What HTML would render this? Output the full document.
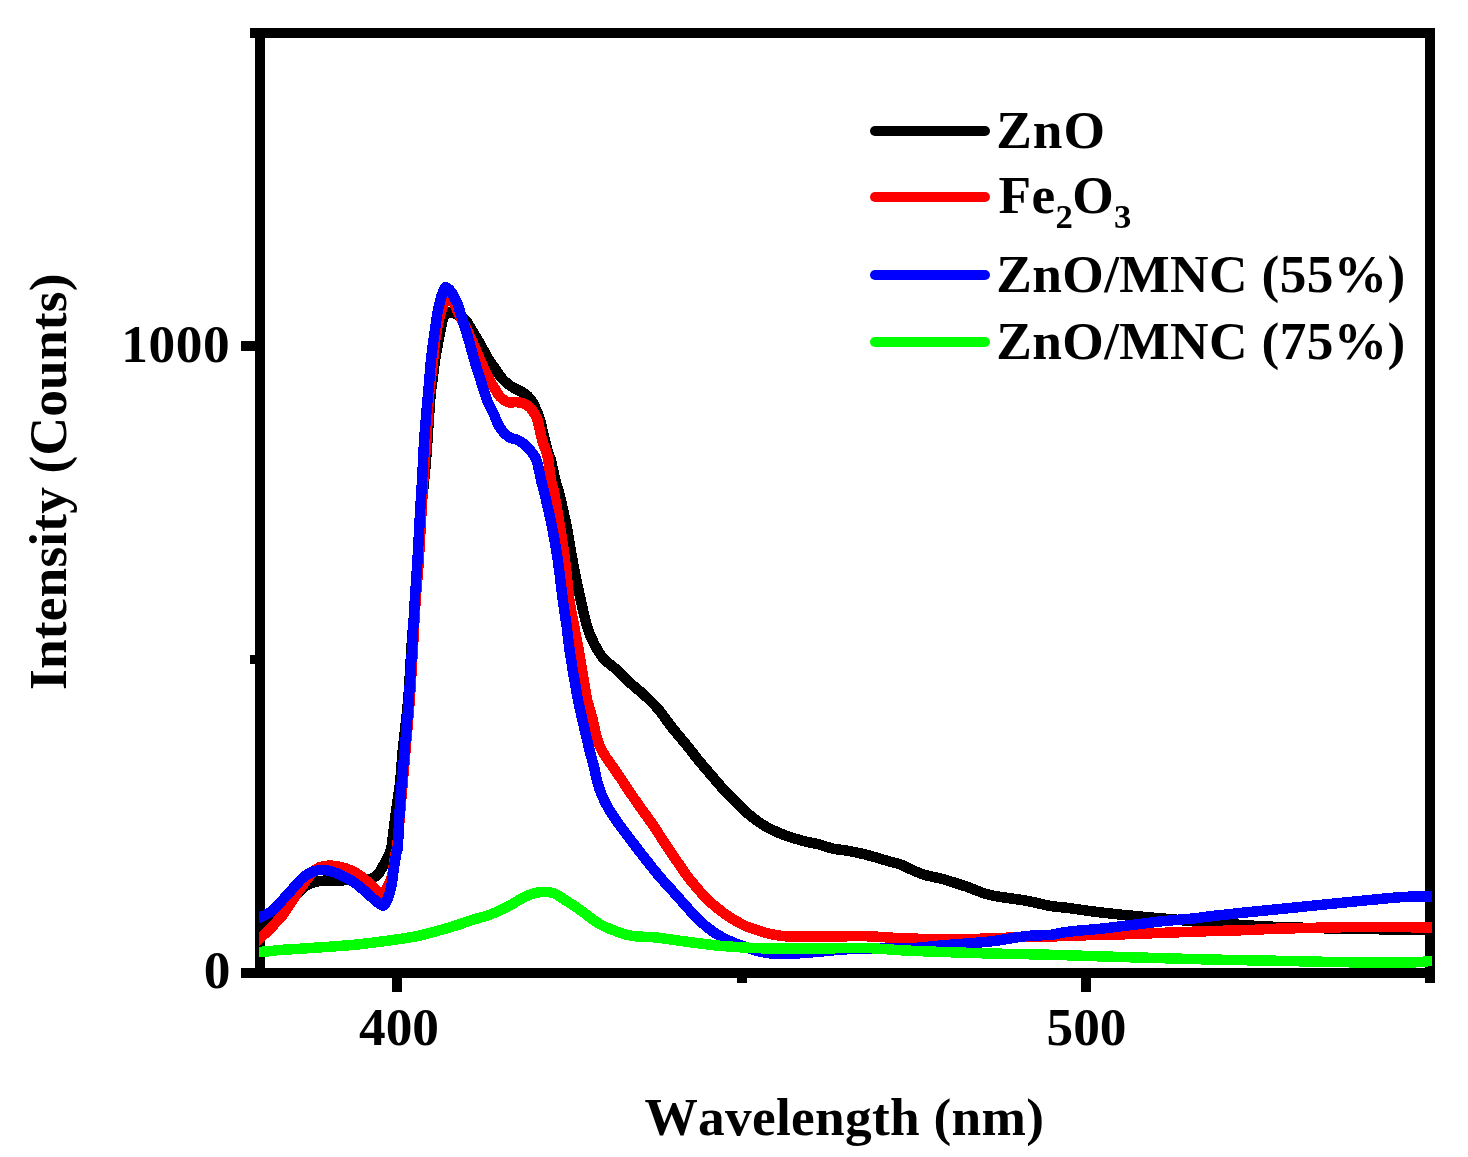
<!DOCTYPE html>
<html lang="en">
<head>
<meta charset="utf-8">
<title>PL spectra – ZnO, Fe2O3, ZnO/MNC</title>
<style>
html,body{margin:0;padding:0;background:#fff;}
body{width:1468px;height:1157px;overflow:hidden;position:relative;}
svg{position:absolute;left:0;top:0;display:block;will-change:transform;}
text{font-family:"Liberation Serif",serif;font-weight:bold;font-size:53.33px;fill:#000;font-kerning:none;font-feature-settings:"kern" 0,"liga" 0;}
.sub{font-size:34.7px;}
.curve{fill:none;stroke-width:10.5;stroke-linejoin:round;stroke-linecap:butt;shape-rendering:crispEdges;}
.ax{fill:#000;shape-rendering:crispEdges;}
.lg{fill:none;stroke-width:10;stroke-linecap:round;}
</style>
</head>
<body>
<svg width="1468" height="1157" viewBox="0 0 1468 1157">
<rect x="0" y="0" width="1468" height="1157" fill="#ffffff"/>
<!-- axes frame -->
<g class="ax">
<rect x="255" y="28" width="10" height="950"/>
<rect x="1425" y="28" width="10" height="955"/>
<rect x="250" y="28" width="1185" height="10"/>
<rect x="241" y="968" width="1194" height="10"/>
<!-- y ticks -->
<rect x="241" y="341" width="14" height="10"/>
<rect x="250" y="655" width="5" height="9"/>
<!-- x ticks -->
<rect x="392" y="978" width="10" height="14"/>
<rect x="737" y="978" width="10" height="5"/>
<rect x="1081" y="978" width="10" height="14"/>
</g>
<!-- data curves -->
<clipPath id="plotclip"><rect x="259" y="38" width="1173" height="935"/></clipPath>
<g clip-path="url(#plotclip)">
<path class="curve" stroke="#000000" d="M247.5 932.2C249.5 930.7 256.6 925.6 259.5 923.5C262.4 921.4 261.1 922.4 264.9 919.6C268.7 916.9 277.1 911.2 282.4 907.0C287.7 902.8 293.3 897.8 296.7 894.6C300.1 891.4 300.5 889.8 302.9 887.9C305.3 886.0 308.3 884.4 311.0 883.3C313.7 882.2 316.5 881.5 319.2 881.1C321.9 880.7 324.3 880.7 327.4 880.6C330.5 880.5 334.0 880.7 337.6 880.6C341.2 880.5 344.5 880.1 348.9 880.0C353.3 879.9 360.3 880.2 364.2 879.9C368.1 879.6 370.1 879.1 372.3 878.2C374.5 877.4 375.9 876.5 377.5 874.8C379.1 873.1 380.6 870.4 382.0 868.0C383.4 865.6 384.8 862.8 386.0 860.5C387.2 858.2 388.2 856.7 389.2 854.2C390.1 851.7 390.6 852.3 391.7 845.5C392.8 838.7 394.4 823.7 395.8 813.3C397.2 802.9 398.8 793.5 400.0 783.0C401.2 772.5 401.4 763.8 402.8 750.0C404.2 736.2 406.8 716.7 408.2 700.0C409.6 683.3 410.3 665.0 411.3 650.0C412.3 635.0 413.3 625.0 414.4 610.0C415.4 595.0 416.5 576.7 417.6 560.0C418.7 543.3 419.8 526.2 421.2 510.0C422.6 493.8 424.3 481.0 425.8 462.7C427.3 444.4 429.1 413.8 430.2 400.0C431.3 386.2 431.7 386.7 432.5 380.0C433.3 373.3 434.1 366.7 435.1 360.0C436.1 353.3 437.4 346.7 438.6 340.0C439.9 333.3 441.5 324.2 442.6 320.0C443.8 315.8 444.4 315.8 445.5 314.5C446.6 313.2 447.9 312.6 449.2 312.3C450.5 312.1 451.9 312.4 453.5 313.0C455.1 313.6 457.0 314.5 459.0 315.7C461.0 316.9 462.4 315.9 465.5 320.0C468.6 324.1 473.9 333.3 477.8 340.0C481.7 346.7 486.1 355.2 489.0 360.0C491.9 364.8 493.2 365.9 495.0 368.5C496.8 371.1 498.3 373.7 500.0 375.9C501.7 378.1 503.3 379.9 505.0 381.5C506.7 383.1 508.3 384.3 510.0 385.5C511.7 386.7 513.3 387.6 515.0 388.5C516.7 389.4 518.3 390.1 520.0 391.0C521.7 391.9 523.3 392.6 525.0 393.9C526.7 395.1 528.3 396.3 530.0 398.5C531.7 400.7 533.3 403.4 535.0 407.0C536.7 410.6 538.4 414.5 540.0 420.0C541.6 425.5 543.4 434.4 544.8 440.0C546.2 445.6 547.3 450.0 548.3 453.3C549.3 456.6 549.6 455.6 550.8 460.0C552.0 464.4 553.9 474.4 555.3 480.0C556.7 485.6 557.3 485.5 559.2 493.3C561.1 501.1 564.5 515.6 566.7 526.7C568.9 537.8 570.4 548.9 572.5 560.0C574.6 571.1 576.8 582.2 579.2 593.3C581.7 604.4 584.7 618.2 587.2 626.7C589.7 635.2 591.6 638.8 594.4 644.1C597.1 649.4 599.9 654.3 603.7 658.7C607.5 663.1 612.8 666.1 617.3 670.3C621.8 674.5 626.5 679.5 631.0 683.7C635.5 687.9 640.1 691.0 644.6 695.3C649.1 699.5 653.8 703.9 658.3 709.2C662.8 714.6 667.3 721.6 671.9 727.4C676.5 733.2 681.0 738.2 685.6 743.8C690.2 749.4 694.8 755.7 699.2 761.1C703.6 766.5 707.9 771.2 712.0 776.0C716.1 780.8 719.5 785.0 723.7 789.6C727.9 794.2 732.8 799.1 737.3 803.5C741.8 807.9 746.5 812.5 751.0 816.2C755.5 819.9 760.1 823.1 764.6 825.8C769.1 828.5 773.8 830.6 778.3 832.6C782.8 834.6 787.3 836.1 791.9 837.6C796.5 839.1 801.0 840.4 805.6 841.5C810.2 842.6 814.7 843.3 819.2 844.5C823.8 845.7 828.4 847.6 832.9 848.6C837.4 849.6 842.0 849.8 846.5 850.6C851.0 851.4 855.7 852.3 860.2 853.3C864.8 854.3 869.2 855.5 873.8 856.8C878.3 858.1 883.0 859.6 887.5 860.9C892.0 862.2 897.4 863.4 901.1 864.7C904.9 866.1 906.0 867.3 910.0 869.0C914.0 870.7 919.5 873.3 925.0 875.0C930.5 876.7 936.3 877.2 943.3 879.2C950.3 881.2 959.2 884.2 967.0 886.8C974.8 889.4 980.0 892.7 990.0 895.0C1000.0 897.3 1016.7 899.0 1026.7 900.8C1036.7 902.6 1043.1 904.7 1050.0 905.9C1056.9 907.1 1059.2 906.8 1068.3 908.0C1077.4 909.2 1089.4 911.2 1104.5 912.9C1119.6 914.6 1138.4 916.4 1159.0 918.2C1179.6 920.1 1208.2 922.5 1228.0 924.0C1247.8 925.5 1258.5 926.2 1278.0 927.0C1297.5 927.8 1322.7 928.2 1345.0 928.7C1367.3 929.2 1397.5 929.5 1412.0 929.7C1426.5 929.9 1427.0 929.9 1432.0 930.0C1437.0 930.1 1440.3 930.1 1442.0 930.1"/>
<path class="curve" stroke="#ff0000" d="M247.5 949.2C249.5 947.4 256.6 941.1 259.5 938.5C262.4 935.9 262.8 935.7 264.9 933.7C267.0 931.7 269.3 929.6 272.2 926.5C275.1 923.4 279.0 919.7 282.4 915.3C285.8 910.9 290.1 904.1 292.7 900.2C295.3 896.3 295.8 895.0 297.8 892.0C299.8 889.0 302.6 885.4 304.9 882.3C307.2 879.2 309.1 876.0 311.5 873.5C313.9 871.0 316.4 868.7 319.2 867.4C322.0 866.1 325.0 865.7 328.4 865.6C331.8 865.5 336.1 866.0 339.7 866.7C343.3 867.4 346.5 868.5 349.9 870.0C353.3 871.5 356.7 873.3 360.1 875.7C363.5 878.1 367.4 881.8 370.3 884.3C373.2 886.8 375.6 889.5 377.5 891.0C379.4 892.5 380.0 893.7 381.4 893.5C382.8 893.3 384.4 891.5 385.7 889.7C387.0 888.0 388.2 885.1 389.2 883.0C390.2 880.9 391.3 879.0 391.9 876.9C392.5 874.8 392.4 874.1 393.0 870.5C393.6 866.9 394.5 859.5 395.2 855.2C395.9 851.0 396.3 854.2 397.3 845.0C398.3 835.8 399.8 815.8 401.2 800.0C402.6 784.2 404.1 766.7 405.5 750.0C406.9 733.3 408.5 716.7 409.7 700.0C410.9 683.3 411.8 666.7 412.8 650.0C413.8 633.3 414.6 615.0 415.6 600.0C416.6 585.0 417.5 580.0 418.8 560.0C420.1 540.0 422.0 500.0 423.3 480.0C424.6 460.0 425.5 453.3 426.4 440.0C427.3 426.7 428.0 410.0 428.7 400.0C429.4 390.0 430.1 386.7 430.8 380.0C431.5 373.3 432.4 366.7 433.1 360.0C433.8 353.3 434.4 345.7 435.2 340.0C435.9 334.3 436.7 330.5 437.6 326.0C438.5 321.5 439.5 316.8 440.6 313.0C441.7 309.2 442.7 306.0 444.0 303.5C445.3 301.0 446.9 298.4 448.3 298.0C449.7 297.6 451.3 299.6 452.5 301.0C453.7 302.4 454.5 304.5 455.5 306.5C456.5 308.5 456.9 309.8 458.5 313.0C460.1 316.2 462.8 321.5 465.0 326.0C467.2 330.5 469.2 334.3 471.7 340.0C474.2 345.7 477.2 353.3 480.2 360.0C483.2 366.7 487.1 375.0 489.7 380.0C492.2 385.0 493.8 387.2 495.5 390.0C497.2 392.8 498.4 394.8 500.0 396.6C501.6 398.4 503.3 399.8 505.0 400.8C506.7 401.8 508.3 402.3 510.0 402.5C511.7 402.7 513.3 402.2 515.0 402.2C516.7 402.2 518.3 402.3 520.0 402.6C521.7 402.9 523.3 403.4 525.0 404.2C526.7 405.0 528.5 406.0 530.0 407.5C531.5 409.0 532.8 410.9 534.0 413.0C535.2 415.1 536.1 415.5 537.5 420.0C538.9 424.5 540.7 434.4 542.2 440.0C543.7 445.6 545.7 450.0 546.7 453.3C547.7 456.6 547.6 455.6 548.3 460.0C549.0 464.4 550.0 474.4 551.0 480.0C552.0 485.6 552.7 485.5 554.2 493.3C555.7 501.1 558.2 515.6 560.0 526.7C561.8 537.8 563.4 547.8 565.0 560.0C566.6 572.2 567.9 588.9 569.4 600.0C570.9 611.1 572.7 618.4 574.2 626.7C575.8 635.0 577.0 640.6 578.7 650.0C580.4 659.4 582.8 675.0 584.2 683.3C585.6 691.6 585.8 694.0 587.2 700.0C588.6 706.0 590.8 712.3 592.5 719.0C594.2 725.7 595.6 734.2 597.5 740.0C599.4 745.8 601.1 749.2 603.7 753.7C606.3 758.2 610.1 762.8 613.2 767.3C616.3 771.8 619.5 776.5 622.5 781.0C625.5 785.5 628.4 790.1 631.5 794.6C634.6 799.1 637.8 803.8 641.0 808.3C644.2 812.8 647.6 817.3 650.8 821.9C653.9 826.5 656.9 831.0 659.9 835.6C662.9 840.2 665.9 844.7 668.9 849.2C671.9 853.8 674.9 858.3 678.1 862.9C681.3 867.5 684.6 872.5 688.0 877.0C691.4 881.5 695.2 886.0 698.5 889.8C701.8 893.6 704.6 896.8 707.7 899.8C710.8 902.8 714.0 905.4 717.2 908.0C720.4 910.6 723.6 913.1 726.8 915.3C730.0 917.5 733.3 919.4 736.5 921.2C739.7 923.0 742.7 924.8 745.8 926.1C748.9 927.5 751.8 928.2 755.0 929.3C758.2 930.4 761.8 931.8 765.0 932.7C768.2 933.6 770.9 934.2 774.4 934.8C777.9 935.4 781.2 936.0 786.0 936.3C790.8 936.6 797.6 936.6 803.3 936.7C809.0 936.8 809.7 936.8 820.0 936.7C830.3 936.6 851.4 936.0 865.0 936.2C878.6 936.5 888.7 937.7 901.7 938.2C914.8 938.7 928.6 939.2 943.3 939.3C958.0 939.3 976.1 938.9 990.0 938.5C1003.9 938.1 1016.7 937.0 1026.7 936.7C1036.7 936.4 1043.1 936.9 1050.0 936.7C1056.9 936.5 1059.2 935.8 1068.3 935.5C1077.4 935.2 1089.4 935.4 1104.5 935.0C1119.6 934.6 1140.8 933.7 1159.0 933.0C1177.2 932.3 1198.3 931.5 1213.5 931.0C1228.7 930.5 1239.2 930.4 1250.0 930.0C1260.8 929.6 1259.7 929.2 1278.3 928.7C1296.9 928.2 1336.1 927.2 1361.7 927.0C1387.3 926.8 1418.6 927.4 1432.0 927.5C1445.4 927.6 1440.3 927.6 1442.0 927.6"/>
<path class="curve" stroke="#0000ff" d="M247.5 922.6C249.5 921.8 256.6 918.7 259.5 917.5C262.4 916.3 262.8 916.4 264.9 915.2C267.0 914.1 269.3 913.1 272.2 910.6C275.1 908.1 279.0 903.9 282.4 900.2C285.8 896.6 289.3 892.5 292.7 888.7C296.1 885.0 299.5 880.6 302.9 877.7C306.3 874.8 309.7 872.7 313.1 871.4C316.5 870.1 319.9 869.9 323.3 870.0C326.7 870.1 330.1 871.0 333.5 872.1C336.9 873.2 340.3 875.0 343.7 876.7C347.1 878.4 350.6 880.0 354.0 882.3C357.4 884.6 360.8 887.6 364.2 890.5C367.6 893.4 371.8 897.5 374.4 899.7C377.0 902.0 378.5 903.0 380.0 904.0C381.5 905.0 382.4 906.3 383.6 905.5C384.9 904.7 386.2 902.3 387.5 899.0C388.8 895.7 390.4 890.6 391.4 885.9C392.4 881.1 392.8 875.6 393.5 870.5C394.2 865.4 395.2 859.5 395.9 855.2C396.6 851.0 397.2 854.2 397.9 845.0C398.6 835.8 399.2 815.8 400.3 800.0C401.4 784.2 403.3 766.7 404.7 750.0C406.1 733.3 407.6 716.7 408.8 700.0C410.0 683.3 411.0 666.7 412.0 650.0C413.0 633.3 413.9 615.0 414.8 600.0C415.7 585.0 416.6 575.0 417.5 560.0C418.4 545.0 419.4 523.3 420.2 510.0C421.0 496.7 421.4 491.7 422.1 480.0C422.8 468.3 423.3 453.3 424.2 440.0C425.1 426.7 426.6 410.0 427.5 400.0C428.4 390.0 428.7 386.7 429.3 380.0C429.9 373.3 430.3 366.7 431.0 360.0C431.7 353.3 432.4 347.8 433.5 340.0C434.6 332.2 436.4 319.1 437.4 313.0C438.4 306.9 438.7 306.7 439.5 303.5C440.3 300.3 441.2 296.7 442.2 294.0C443.2 291.3 444.1 288.1 445.3 287.3C446.5 286.6 448.1 288.4 449.3 289.5C450.5 290.6 451.6 292.2 452.6 294.0C453.6 295.8 454.6 298.2 455.5 300.0C456.4 301.8 457.2 302.6 458.0 304.8C458.8 307.0 458.6 307.1 460.4 313.0C462.2 318.9 466.4 332.2 468.7 340.0C471.0 347.8 472.3 353.3 474.3 360.0C476.3 366.7 478.5 373.3 480.6 380.0C482.7 386.7 484.8 394.2 487.0 400.0C489.2 405.8 491.9 410.0 494.0 414.5C496.1 419.0 497.2 423.5 499.6 427.2C502.0 430.9 505.2 434.5 508.3 436.7C511.4 438.9 515.2 438.6 518.3 440.3C521.4 442.0 523.8 443.6 526.7 446.7C529.7 449.8 533.6 453.4 536.0 459.0C538.4 464.6 539.6 474.3 541.0 480.0C542.4 485.7 542.7 485.5 544.5 493.3C546.3 501.1 549.8 515.6 552.0 526.7C554.2 537.8 556.0 547.8 557.8 560.0C559.6 572.2 561.3 588.9 562.8 600.0C564.3 611.1 565.6 618.2 566.7 626.7C567.9 635.2 568.3 641.6 569.7 651.0C571.1 660.4 573.6 675.1 575.0 683.3C576.4 691.5 576.9 694.4 578.0 700.0C579.1 705.6 579.7 708.0 581.7 716.7C583.7 725.4 587.9 743.6 590.0 752.0C592.1 760.4 592.9 762.5 594.1 767.3C595.3 772.1 595.9 776.5 597.1 781.0C598.4 785.5 599.7 790.1 601.6 794.6C603.5 799.1 605.8 803.8 608.4 808.3C611.0 812.8 614.1 817.3 617.3 821.9C620.5 826.5 624.1 831.0 627.5 835.6C630.9 840.2 634.3 844.7 637.8 849.2C641.3 853.8 644.9 858.4 648.5 862.9C652.1 867.4 656.0 872.4 659.5 876.5C663.0 880.6 666.2 884.0 669.5 887.6C672.8 891.2 675.9 894.7 679.1 898.3C682.3 901.9 685.4 905.6 688.6 909.1C691.8 912.6 694.9 916.0 698.1 919.1C701.3 922.2 704.5 925.2 707.7 927.7C710.9 930.2 714.0 932.4 717.2 934.4C720.4 936.4 723.6 938.0 726.8 939.6C730.0 941.2 733.1 942.7 736.3 943.9C739.5 945.1 742.6 945.9 745.8 947.0C749.0 948.1 752.2 949.7 755.4 950.6C758.6 951.5 761.7 952.0 764.9 952.5C768.1 953.0 770.8 953.7 774.4 953.9C778.0 954.1 781.9 954.0 786.7 953.9C791.5 953.8 797.8 953.4 803.3 953.0C808.8 952.6 814.4 952.2 820.0 951.7C825.6 951.2 829.2 950.6 836.7 950.0C844.2 949.4 858.3 948.5 865.0 948.3C871.7 948.1 869.2 948.7 876.7 948.7C884.2 948.7 898.9 948.9 910.0 948.3C921.1 947.7 930.0 946.4 943.3 945.3C956.6 944.2 976.1 943.0 990.0 941.5C1003.9 940.0 1016.7 937.1 1026.7 936.0C1036.7 934.9 1043.1 935.6 1050.0 934.9C1056.9 934.2 1059.2 932.8 1068.3 931.7C1077.4 930.6 1089.4 930.0 1104.5 928.3C1119.6 926.6 1143.9 923.3 1159.0 921.6C1174.1 919.9 1185.9 919.2 1195.0 918.3C1204.1 917.3 1204.3 916.9 1213.5 915.9C1222.7 914.9 1239.2 913.1 1250.0 912.0C1260.8 910.9 1259.7 911.1 1278.3 909.2C1296.9 907.3 1340.9 902.8 1361.7 900.8C1382.5 898.8 1391.6 897.7 1403.3 897.0C1415.0 896.3 1425.5 896.6 1432.0 896.5C1438.5 896.4 1440.3 896.4 1442.0 896.3"/>
<path class="curve" stroke="#00ff00" d="M247.5 953.0C249.5 952.8 255.4 952.3 259.5 952.0C263.6 951.7 268.8 951.3 272.0 951.0C275.2 950.7 274.8 950.3 279.0 950.0C283.2 949.7 291.7 949.3 297.0 949.0C302.3 948.7 306.3 948.3 311.0 948.0C315.7 947.7 320.3 947.3 325.0 947.0C329.7 946.7 333.2 946.5 339.0 946.0C344.8 945.5 351.8 945.1 360.0 944.2C368.2 943.3 379.6 941.8 388.3 940.6C397.0 939.4 406.7 937.9 412.0 937.0C417.3 936.1 415.3 936.6 420.0 935.5C424.7 934.4 433.9 931.9 440.0 930.2C446.1 928.5 451.1 927.1 456.7 925.3C462.3 923.5 467.8 921.4 473.4 919.6C478.9 917.8 484.4 916.8 490.0 914.7C495.6 912.6 501.1 910.0 506.7 907.1C512.3 904.2 518.9 899.9 523.4 897.6C527.9 895.3 530.1 894.3 533.5 893.4C536.9 892.5 540.2 892.0 543.5 892.0C546.8 892.0 549.9 891.9 553.5 893.2C557.1 894.5 560.5 897.0 565.2 900.0C569.9 903.0 576.4 907.3 581.9 911.2C587.4 915.1 593.0 920.1 598.5 923.4C604.0 926.7 609.6 928.8 615.2 930.9C620.8 933.0 624.9 934.8 631.9 935.9C638.9 937.0 647.9 936.6 657.0 937.6C666.1 938.6 676.2 940.3 686.7 941.7C697.2 943.1 708.9 944.8 720.0 945.8C731.1 946.8 742.2 947.5 753.3 948.0C764.4 948.5 775.6 948.6 786.7 948.7C797.8 948.8 807.0 948.6 820.0 948.5C833.0 948.4 851.4 947.7 865.0 948.0C878.6 948.3 888.7 949.6 901.7 950.3C914.8 951.0 928.6 951.5 943.3 952.0C958.0 952.5 976.1 953.1 990.0 953.5C1003.9 953.9 1013.7 953.9 1026.7 954.2C1039.8 954.5 1055.3 954.9 1068.3 955.3C1081.3 955.7 1091.8 956.1 1104.7 956.5C1117.6 956.9 1127.3 957.2 1145.4 957.7C1163.5 958.2 1196.1 959.2 1213.5 959.6C1230.9 960.0 1239.2 960.1 1250.0 960.3C1260.8 960.5 1259.7 960.4 1278.3 960.8C1296.9 961.2 1339.5 962.2 1361.7 962.5C1383.9 962.8 1400.0 962.8 1411.7 962.5C1423.4 962.2 1427.0 961.2 1432.0 960.8C1437.0 960.4 1440.3 960.1 1442.0 960.0"/>
</g>
<!-- tick labels -->
<text x="230.3" y="361.5" text-anchor="end" style="letter-spacing:0.6px">1000</text>
<text x="230.3" y="987.5" text-anchor="end">0</text>
<text x="399" y="1044.5" text-anchor="middle">400</text>
<text x="1086.5" y="1044.5" text-anchor="middle">500</text>
<!-- axis titles -->
<text x="644.5" y="1134.5" style="letter-spacing:0.29px">Wavelength (nm)</text>
<text transform="translate(66 690) rotate(-90)" style="letter-spacing:0.18px">Intensity (Counts)</text>
<!-- legend -->
<path class="lg" stroke="#000000" d="M875 131H985"/>
<path class="lg" stroke="#ff0000" d="M875 197H985"/>
<path class="lg" stroke="#0000ff" d="M875 275H985"/>
<path class="lg" stroke="#00ff00" d="M875 342H985"/>
<text x="996.3" y="148" style="letter-spacing:1.0px">ZnO</text>
<text x="998.5" y="213.4" style="letter-spacing:0.4px">Fe</text>
<text transform="translate(1055.6 227.7) scale(0.6507)">2</text>
<text x="1072.3" y="213.4">O</text>
<text transform="translate(1113.9 227.7) scale(0.6507)">3</text>
<text x="996.3" y="292" style="letter-spacing:0.38px">ZnO/MNC (55%)</text>
<text x="996.3" y="359" style="letter-spacing:0.38px">ZnO/MNC (75%)</text>
</svg>
</body>
</html>
